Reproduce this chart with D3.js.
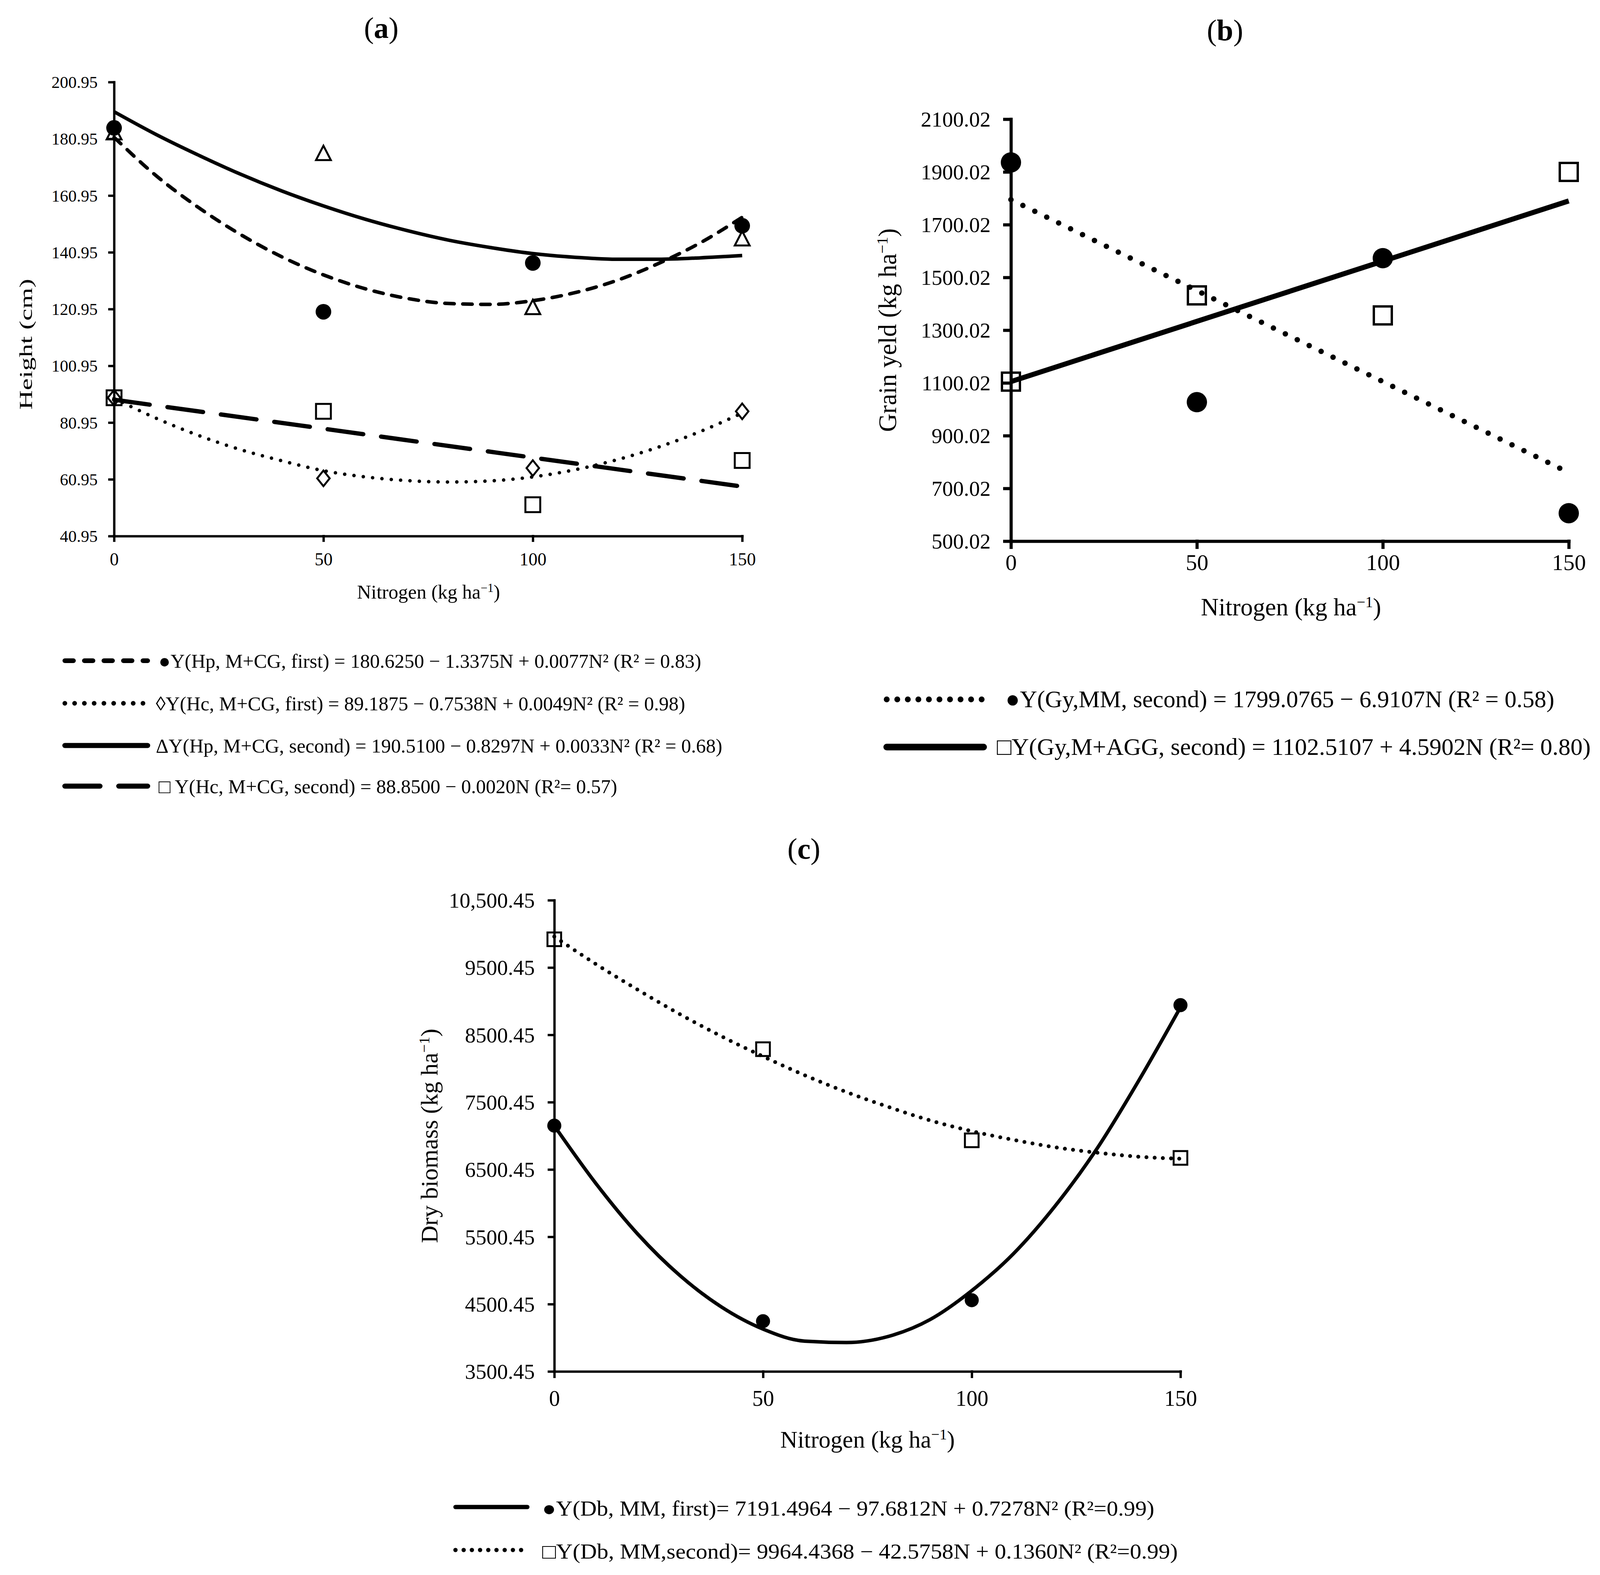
<!DOCTYPE html>
<html>
<head>
<meta charset="utf-8">
<script src="https://cdn.jsdelivr.net/npm/d3@7"></script>
<style>
  html, body { margin: 0; padding: 0; background: #fff; }
  svg { display: block; }
  text { font-family: "Liberation Serif", "Times New Roman", serif; fill: #000; }
</style>
</head>
<body>
<svg id="chart" width="4108" height="4031"></svg>
<script>
// ---- data ----
const nitrogen = [0, 50, 100, 150];
const trendN = [0, 10, 20, 30, 40, 50, 60, 70, 80, 90, 100, 110, 120, 130, 140, 150];
const lineN = [0, 150];

// (a) plant height / cob height, cm
const heightTicks = [40.95, 60.95, 80.95, 100.95, 120.95, 140.95, 160.95, 180.95, 200.95];
const heightTickLabels = ['40.95', '60.95', '80.95', '100.95', '120.95', '140.95', '160.95', '180.95', '200.95'];
const hpFirst = [184.8, 120.0, 137.2, 150.3];
const hcFirst = [89.7, 61.3, 64.9, 84.9];
const hpSecond = [183.1, 175.8, 121.5, 145.7];
const hcSecond = [89.7, 84.9, 52.0, 67.6];
const hpFirstTrend = [181.5, 168.0, 156.9, 147.4, 139.4, 133.0, 128.1, 124.7, 122.9, 122.6, 123.9, 126.7, 131.0, 137.0, 144.3, 153.3];
const hcFirstTrend = [89.5, 82.5, 76.5, 71.5, 67.5, 64.0, 61.8, 60.5, 60.0, 60.4, 61.8, 64.3, 67.8, 72.3, 77.8, 84.3];
const hpSecondTrend = [190.5, 182.5, 175.3, 168.6, 162.6, 157.3, 152.6, 148.6, 145.2, 142.6, 140.5, 139.2, 138.5, 138.5, 139.0, 139.8];
const hcSecondTrend = [89.0, 58.4];

// (b) grain yield, kg/ha
const yieldTicks = [500.02, 700.02, 900.02, 1100.02, 1300.02, 1500.02, 1700.02, 1900.02, 2100.02];
const yieldTickLabels = ['500.02', '700.02', '900.02', '1100.02', '1300.02', '1500.02', '1700.02', '1900.02', '2100.02'];
const yieldMM = [1936, 1027, 1573, 606];
const yieldMAGG = [1105, 1432, 1356, 1900];
const yieldMMTrend = [1795, 760];
const yieldMAGGTrend = [1105, 1790];

// (c) dry biomass, kg/ha
const biomassTicks = [3500.45, 4500.45, 5500.45, 6500.45, 7500.45, 8500.45, 9500.45, 10500.45];
const biomassTickLabels = ['3500.45', '4500.45', '5500.45', '6500.45', '7500.45', '8500.45', '9500.45', '10,500.45'];
const biomassFirst = [7152, 4247, 4559, 8942];
const biomassSecond = [9920, 8287, 6934, 6672];
const biomassFirstTrend = [7150, 6290, 5540, 4930, 4460, 4130, 3950, 3930, 4020, 4270, 4700, 5250, 5960, 6810, 7820, 8910];
const biomassSecondTrend = [9960, 9550, 9170, 8810, 8480, 8180, 7900, 7650, 7430, 7230, 7070, 6940, 6830, 6750, 6690, 6660];

const legendA = [
  '●Y(Hp, M+CG, first) = 180.6250 − 1.3375N + 0.0077N² (R² = 0.83)',
  '◊Y(Hc, M+CG, first) = 89.1875 − 0.7538N + 0.0049N² (R² = 0.98)',
  'ΔY(Hp, M+CG, second) = 190.5100 − 0.8297N + 0.0033N² (R² = 0.68)',
  '□ Y(Hc, M+CG, second) = 88.8500 − 0.0020N (R²= 0.57)'
];
const legendB = [
  '●Y(Gy,MM, second) = 1799.0765 − 6.9107N (R² = 0.58)',
  '□Y(Gy,M+AGG, second) = 1102.5107 + 4.5902N (R²= 0.80)'
];
const legendC = [
  '●Y(Db, MM, first)= 7191.4964 − 97.6812N + 0.7278N² (R²=0.99)',
  '□Y(Db, MM,second)= 9964.4368 − 42.5758N + 0.1360N² (R²=0.99)'
];

// ---- marker shapes (size = width) ----
const circleShape = { draw(ctx, s) { ctx.moveTo(s / 2, 0); ctx.arc(0, 0, s / 2, 0, 2 * Math.PI); } };
const squareShape = { draw(ctx, s) { ctx.rect(-s / 2, -s / 2, s, s); } };
const triangleShape = { draw(ctx, s) { ctx.moveTo(0, -s * 0.52); ctx.lineTo(s * 0.5, s * 0.45); ctx.lineTo(-s * 0.5, s * 0.45); ctx.closePath(); } };
const diamondShape = { draw(ctx, s) { ctx.moveTo(0, -s / 2); ctx.lineTo(s * 0.4, 0); ctx.lineTo(0, s / 2); ctx.lineTo(-s * 0.4, 0); ctx.closePath(); } };

const svg = d3.select('#chart');

function unitText(sel, prefix) {
  sel.append('tspan').text(prefix + ' (kg ha');
  sel.append('tspan').text('−1').attr('font-size', '62%').attr('baseline-shift', 'super');
  sel.append('tspan').text(')');
}

function drawPanel(p) {
  const x = d3.scaleLinear().domain([0, 150]).range(p.xRange);
  const y = d3.scaleLinear().domain(p.yDomain).range(p.yRange);
  const g = svg.append('g');

  const yAxis = g.append('g')
    .attr('transform', `translate(${p.xRange[0]}, 0)`)
    .call(d3.axisLeft(y).tickValues(p.yTicks).tickFormat((d, i) => p.yLabels[i])
      .tickSize(p.tick).tickSizeOuter(0).tickPadding(p.yPad));
  const xAxis = g.append('g')
    .attr('transform', `translate(0, ${p.yRange[0]})`)
    .call(d3.axisBottom(x).tickValues(nitrogen).tickFormat(d3.format('d'))
      .tickSize(p.tick).tickSizeOuter(0));
  [yAxis, xAxis].forEach(a => {
    a.selectAll('path, line').attr('stroke-width', p.axisWidth).attr('stroke-linecap', 'square');
  });
  yAxis.selectAll('text').attr('dy', '0.34em').style('font-size', p.yTickFont + 'px');
  xAxis.selectAll('text').attr('dy', null).attr('y', p.xLabelOffset).style('font-size', p.xTickFont + 'px');

  g.append('text')
    .attr('x', p.title[0]).attr('y', p.title[1])
    .attr('text-anchor', 'middle').style('font-size', '76px')
    .call(t => { t.append('tspan').text('('); t.append('tspan').text(p.titleLetter).attr('font-weight', 'bold'); t.append('tspan').text(')'); });

  g.append('text')
    .attr('x', p.xTitle[0]).attr('y', p.xTitle[1])
    .attr('text-anchor', 'middle').style('font-size', p.xTitleFont + 'px')
    .call(unitText, 'Nitrogen');

  const yt = g.append('text')
    .attr('transform', `translate(${p.yTitle[0]}, ${p.yTitle[1]}) rotate(-90)`)
    .attr('text-anchor', 'middle').style('font-size', p.yTitleFont + 'px');
  if (p.yUnit) yt.call(unitText, p.yTitleText); else yt.text(p.yTitleText);
  if (p.yTitleLength) yt.attr('textLength', p.yTitleLength).attr('lengthAdjust', 'spacingAndGlyphs');

  const line = d3.line().x(d => x(d[0])).y(d => y(d[1])).curve(d3.curveMonotoneX);
  p.series.forEach(s => {
    g.append('path')
      .datum(d3.zip(s.trendX, s.trend))
      .attr('d', line)
      .attr('fill', 'none').attr('stroke', '#000')
      .attr('stroke-width', s.width)
      .attr('stroke-dasharray', s.dash || null)
      .attr('stroke-linecap', s.dash ? 'round' : 'butt');
  });
  p.series.forEach(s => {
    const sym = d3.symbol().type(s.shape).size(s.size);
    g.append('g').selectAll('path')
      .data(d3.zip(nitrogen, s.values))
      .join('path')
      .attr('transform', d => `translate(${x(d[0])}, ${y(d[1])})`)
      .attr('d', sym)
      .attr('fill', s.filled ? '#000' : 'none')
      .attr('stroke', '#000')
      .attr('stroke-width', s.filled ? 0 : s.markStroke);
  });

  // legend
  p.series.forEach((s, i) => {
    const ly = p.legend.y[i];
    g.append('line')
      .attr('x1', p.legend.x1).attr('x2', p.legend.x2)
      .attr('y1', ly).attr('y2', ly)
      .attr('stroke', '#000').attr('stroke-width', s.legendWidth)
      .attr('stroke-dasharray', s.legendDash || null)
      .attr('stroke-linecap', 'round');
    g.append('text')
      .attr('x', p.legend.tx[i]).attr('y', ly + p.legend.dy)
      .style('font-size', p.legend.font + 'px')
      .attr('textLength', p.legend.len[i]).attr('lengthAdjust', 'spacingAndGlyphs')
      .text(p.legend.texts[i]);
  });
}

drawPanel({
  xRange: [292, 1900], yDomain: [40.95, 200.95], yRange: [1372, 210],
  yTicks: heightTicks, yLabels: heightTickLabels,
  tick: 12, yPad: 30, axisWidth: 6, yTickFont: 43, xTickFont: 46, xLabelOffset: 75,
  title: [976, 97], titleLetter: 'a',
  xTitle: [1097, 1532], xTitleFont: 50,
  yTitle: [82, 881], yTitleText: 'Height (cm)', yTitleFont: 46, yUnit: false, yTitleLength: 335,
  series: [
    { values: hpFirst, trendX: trendN, trend: hpFirstTrend, shape: circleShape, size: 40, filled: true,
      width: 9, dash: '24,22', legendWidth: 12, legendDash: '22,28' },
    { values: hcFirst, trendX: trendN, trend: hcFirstTrend, shape: diamondShape, size: 40, markStroke: 5,
      width: 9, dash: '0,24', legendWidth: 12, legendDash: '0,25' },
    { values: hpSecond, trendX: trendN, trend: hpSecondTrend, shape: triangleShape, size: 38, markStroke: 5,
      width: 9, legendWidth: 13 },
    { values: hcSecond, trendX: lineN, trend: hcSecondTrend, shape: squareShape, size: 38, markStroke: 5,
      width: 11, dash: '92,46', legendWidth: 13, legendDash: '90,48' }
  ],
  legend: { x1: 166, x2: 378, y: [1691, 1800, 1908, 2012], dy: 18, font: 50,
    tx: [406, 399, 399, 406], len: [1389, 1355, 1450, 1174], texts: legendA }
});

drawPanel({
  xRange: [2588, 4016], yDomain: [500.02, 2100.02], yRange: [1385, 305],
  yTicks: yieldTicks, yLabels: yieldTickLabels,
  tick: 16, yPad: 36, axisWidth: 8, yTickFont: 55, xTickFont: 58, xLabelOffset: 74,
  title: [3136, 103], titleLetter: 'b',
  xTitle: [3305, 1575], xTitleFont: 63,
  yTitle: [2294, 845], yTitleText: 'Grain yeld', yTitleFont: 65, yUnit: true,
  series: [
    { values: yieldMM, trendX: lineN, trend: yieldMMTrend, shape: circleShape, size: 52, filled: true,
      width: 14, dash: '0,34', legendWidth: 15, legendDash: '0,27' },
    { values: yieldMAGG, trendX: lineN, trend: yieldMAGGTrend, shape: squareShape, size: 46, markStroke: 6,
      width: 13, legendWidth: 17 }
  ],
  legend: { x1: 2270, x2: 2518, y: [1790, 1912], dy: 20, font: 62,
    tx: [2574, 2552], len: [1405, 1520], texts: legendB }
});

drawPanel({
  xRange: [1419, 3022], yDomain: [3500.45, 10500.45], yRange: [3510, 2304],
  yTicks: biomassTicks, yLabels: biomassTickLabels,
  tick: 14, yPad: 36, axisWidth: 6, yTickFont: 55, xTickFont: 56, xLabelOffset: 88,
  title: [2058, 2198], titleLetter: 'c',
  xTitle: [2221, 3705], xTitleFont: 61,
  yTitle: [1120, 2907], yTitleText: 'Dry biomass', yTitleFont: 62, yUnit: true,
  series: [
    { values: biomassFirst, trendX: trendN, trend: biomassFirstTrend, shape: circleShape, size: 36, filled: true,
      width: 9, legendWidth: 11 },
    { values: biomassSecond, trendX: trendN, trend: biomassSecondTrend, shape: squareShape, size: 35, markStroke: 5,
      width: 10, dash: '0,21', legendWidth: 11, legendDash: '0,21' }
  ],
  legend: { x1: 1166, x2: 1350, y: [3857, 3967], dy: 22, font: 54,
    tx: [1388, 1388], len: [1567, 1627], texts: legendC }
});
</script>
</body>
</html>
